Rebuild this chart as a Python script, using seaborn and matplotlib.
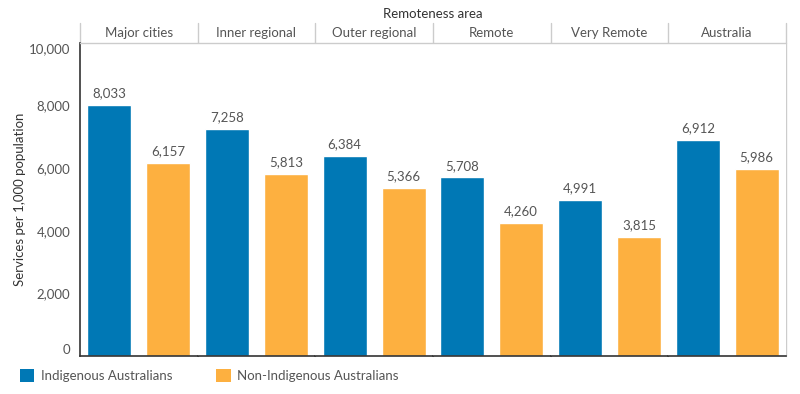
#!/usr/bin/env python3
# -*- coding: utf-8 -*-
"""Services per 1,000 population by remoteness area, Indigenous vs non-Indigenous."""
import pandas as pd
import matplotlib
matplotlib.use('Agg')
import matplotlib.pyplot as plt
from matplotlib.lines import Line2D
from matplotlib.patches import Patch
import seaborn as sns

areas = ['Major cities', 'Inner regional', 'Outer regional', 'Remote', 'Very Remote', 'Australia']
groups = ['Indigenous Australians', 'Non-Indigenous Australians']
indigenous = [8033, 7258, 6384, 5708, 4991, 6912]
non_indigenous = [6157, 5813, 5366, 4260, 3815, 5986]
y_ticks = [0, 2000, 4000, 6000, 8000, 10000]

colors = {'Indigenous Australians': '#0078b5', 'Non-Indigenous Australians': '#fdb040'}
text_col = '#555555'
grid_col = '#cccccc'

df = pd.DataFrame({
    'area': areas * 2,
    'group': [groups[0]] * len(areas) + [groups[1]] * len(areas),
    'value': indigenous + non_indigenous,
})

sns.set_theme(style='white')
plt.rcParams['font.family'] = ['Lato', 'DejaVu Sans']
fs = 9.5

W, H = 800, 394
fig, axes = plt.subplots(1, len(areas), sharey=True, figsize=(W / 100, H / 100), dpi=100,
                         gridspec_kw={'wspace': 0})
left_px, right_px, top_px, bottom_px, head_px = 80, 786, 43, 356, 23
fig.subplots_adjust(left=left_px / W, right=right_px / W, top=1 - top_px / H, bottom=1 - bottom_px / H)

for i, (ax, area) in enumerate(zip(axes, areas)):
    sub = df[df['area'] == area]
    sns.barplot(data=sub, x='group', y='value', hue='group', order=groups, hue_order=groups,
                palette=colors, saturation=1, dodge=False, width=0.75, legend=False, ax=ax)
    ax.set_xlim(-0.5, 1.5)
    ax.set_ylim(0, 10000)
    ax.set_xticks([])
    ax.set_xlabel('')
    ax.set_ylabel('')
    for j, g in enumerate(groups):
        v = sub.loc[sub['group'] == g, 'value'].iloc[0]
        ax.text(j, v + 180, f'{v:,}', ha='center', va='bottom', fontsize=fs, color=text_col)
    for s in ['top', 'right', 'left']:
        ax.spines[s].set_visible(False)
    ax.spines['bottom'].set_color('#333333')
    ax.spines['bottom'].set_linewidth(1.2)
    ax.tick_params(axis='y', length=0)

ax0 = axes[0]
ax0.spines['left'].set_visible(True)
ax0.spines['left'].set_color('#333333')
ax0.spines['left'].set_linewidth(1.2)
ax0.set_yticks(y_ticks)
ax0.set_yticklabels([f'{t:,}' for t in y_ticks], fontsize=fs, color=text_col)
ax0.tick_params(axis='y', length=4, color='#dddddd', pad=3)
labels = ax0.get_yticklabels()
labels[0].set_va('bottom')
labels[-1].set_va('top')
fig.text(20 / W, 1 - (top_px + bottom_px) / 2 / H, 'Services per 1,000 population', rotation=90,
         ha='center', va='center', fontsize=fs, color='#333333')

# header band and panel separators
panel_w = (right_px - left_px) / len(areas)
for k in range(len(areas) + 1):
    x = (left_px + k * panel_w) / W
    y0 = 1 - head_px / H
    y1 = 1 - (top_px if k == 0 else bottom_px) / H
    fig.add_artist(Line2D([x, x], [y0, y1], color=grid_col, lw=1, zorder=0))
fig.add_artist(Line2D([left_px / W, right_px / W], [1 - top_px / H] * 2, color=grid_col, lw=1))
for k, area in enumerate(areas):
    xc = (left_px + (k + 0.5) * panel_w) / W
    fig.text(xc, 1 - 33 / H, area, ha='center', va='center', fontsize=fs, color=text_col)
fig.text((left_px + right_px) / 2 / W, 1 - 14 / H, 'Remoteness area', ha='center', va='center',
         fontsize=fs, color='#333333')

handles = [Patch(facecolor=colors[g], edgecolor='none') for g in groups]
fig.legend(handles, groups, loc='lower left', bbox_to_anchor=(0.01, 0.0), ncol=2, frameon=False,
           handlelength=1.1, handleheight=1.1, handletextpad=0.5, columnspacing=3.3,
           fontsize=fs, labelcolor=text_col)

fig.savefig('out.png', dpi=100)
